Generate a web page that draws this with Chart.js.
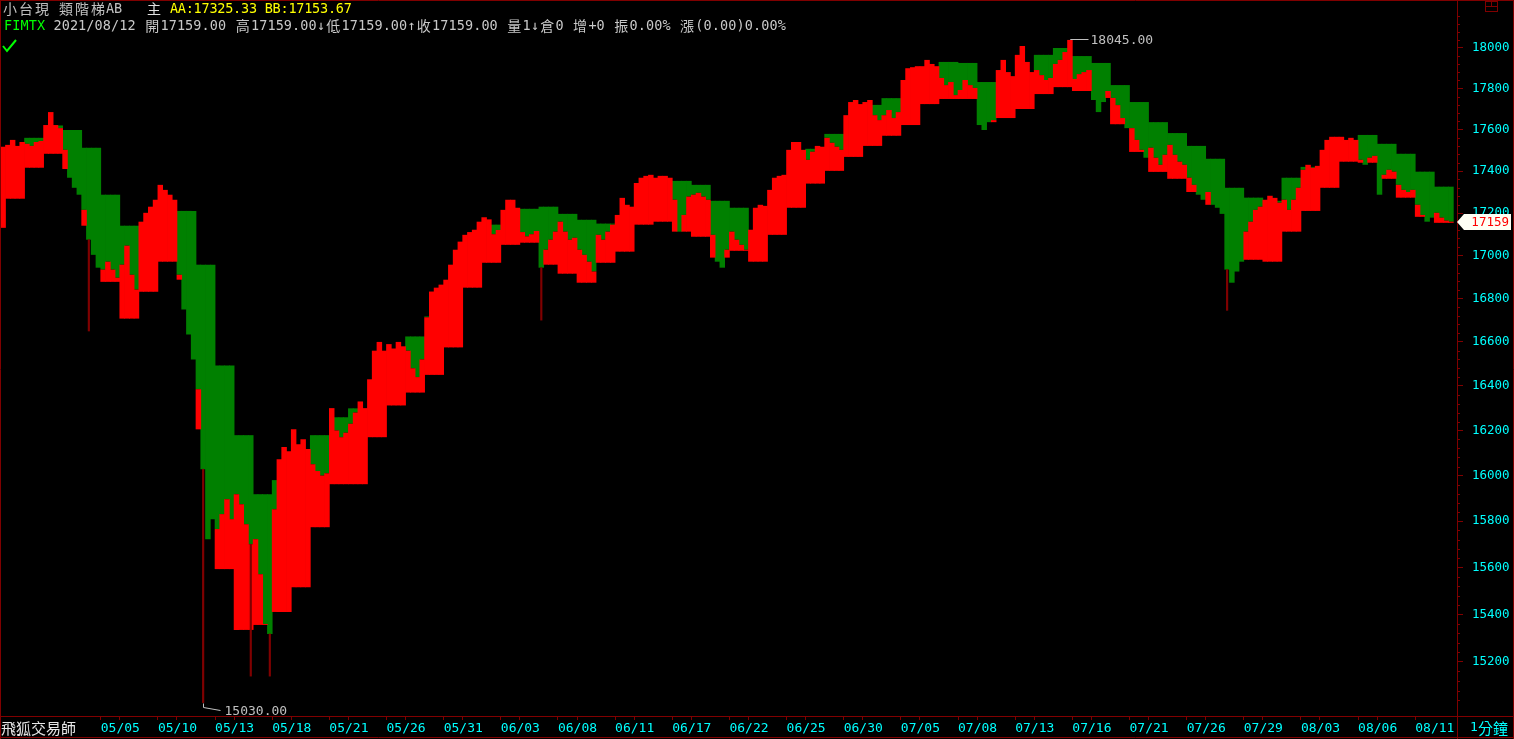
<!DOCTYPE html>
<html>
<head>
<meta charset="utf-8">
<script src="https://cdn.jsdelivr.net/npm/chart.js@4.4.1/dist/chart.umd.min.js"></script>
<style>
  html, body { margin: 0; padding: 0; background: #000; overflow: hidden; }
  canvas { display: block; }
</style>
</head>
<body>
<canvas id="ladder-chart-canvas" width="1514" height="739"></canvas>
<script>
// 4 closes per trading day, first value is the tail of 04/27
const closes = [
  17517,
  17526, 17550, 17521, 17540,  17531, 17521, 17540, 17545,  17622, 17685, 17622, 17607,  // 04/28 - 04/30
  17502, 17368, 17320, 17287,  17215, 17074, 17003, 16943,  16934, 16971, 16934, 16896,  // 05/03 - 05/05
  16957, 17046, 16910, 16841,  17159, 17201, 17230, 17263,  17334, 17310, 17287, 17263,  // 05/06 - 05/10
  16910, 16749, 16634, 16520,  16385, 16028, 15722, 15809,  15766, 15831, 15896, 15809,  // 05/11 - 05/13
  15918, 15874, 15787, 15700,  15722, 15571, 15359, 15317,  15852, 16072, 16126, 16108,  // 05/14 - 05/18
  16205, 16139, 16161, 16117,  16050, 16020, 16000, 16010,  16300, 16200, 16170, 16190,  // 05/19 - 05/21
  16230, 16280, 16330, 16300,  16430, 16560, 16600, 16560,  16590, 16570, 16600, 16580,  // 05/24 - 05/26
  16560, 16480, 16440, 16520,  16713, 16832, 16850, 16864,  16887, 16957, 17027, 17065,  // 05/27 - 05/31
  17097, 17110, 17121, 17159,  17180, 17170, 17100, 17120,  17215, 17263, 17263, 17225,  // 06/01 - 06/03
  17110, 17090, 17100, 17115,  16943, 17027, 17074, 17112,  17159, 17112, 17074, 17083,  // 06/04 - 06/08
  17027, 17003, 16971, 16925,  17097, 17074, 17112, 17145,  17191, 17272, 17239, 17230,  // 06/09 - 06/11
  17343, 17368, 17377, 17382,  17368, 17377, 17377, 17368,  17263, 17112, 17191, 17278,  // 06/15 - 06/17
  17287, 17296, 17278, 17263,  17097, 16971, 16943, 17027,  17112, 17074, 17050, 17027,  // 06/18 - 06/22
  17121, 17225, 17239, 17234,  17310, 17368, 17377, 17382,  17502, 17540, 17540, 17502,  // 06/23 - 06/25
  17454, 17493, 17521, 17517,  17560, 17536, 17517, 17502,  17670, 17734, 17744, 17724,  // 06/28 - 06/30
  17734, 17744, 17670, 17646,  17670, 17695, 17656, 17685,  17842, 17900, 17905, 17910,  // 07/01 - 07/05
  17910, 17941, 17921, 17910,  17852, 17817, 17832, 17768,  17793, 17842, 17817, 17803,  // 07/06 - 07/08
  17622, 17598, 17636, 17646,  17891, 17941, 17881, 17861,  17966, 18010, 17931, 17881,  // 07/09 - 07/13
  17891, 17866, 17842, 17852,  17921, 17941, 17980, 18040,  17847, 17871, 17881, 17891,  // 07/14 - 07/16
  17744, 17685, 17734, 17788,  17754, 17719, 17656, 17607,  17607, 17550, 17502, 17464,  // 07/19 - 07/21
  17512, 17464, 17430, 17478,  17526, 17478, 17445, 17430,  17368, 17334, 17287, 17263,  // 07/22 - 07/26
  17300, 17239, 17225, 17196,  16934, 16873, 16925, 16971,  17112, 17159, 17215, 17230,  // 07/27 - 07/29
  17263, 17282, 17272, 17249,  17263, 17215, 17263, 17320,  17406, 17430, 17416, 17425,  // 07/30 - 08/03
  17502, 17550, 17565, 17565,  17565, 17550, 17560, 17550,  17454, 17430, 17464, 17473,  // 08/04 - 08/06
  17287, 17382, 17406, 17397,  17334, 17310, 17300, 17310,  17239, 17191, 17159, 17178,  // 08/09 - 08/11
  17201, 17178, 17164, 17159   // 08/12
];

// one step per trading day (first entry = 04/27 tail), null where the step is not shown
const ladderAA = [
  null, null, 17560, 17620, 17598, 17512, 17287, 17140, null, 17250, 17210,
  16957, 16493, 16179, 15918, 15980, null, 16179, 16259, 16299, null,
  null, 16625, 16717, null, null, 17145, 17215, 17220, 17230, 17196,
  17168, 17150, null, null, null, 17353, 17334, 17258, 17225, null,
  null, null, 17507, 17579, null, 17720, 17753, null, null, 17931,
  17926, 17832, null, null, 17966, 18000, 17960, 17926, 17817, 17734,
  17636, 17583, 17521, 17459, 17320, 17273, 17258, 17368, 17420, null,
  null, 17574, 17531, 17483, 17397, 17325.33
];
const ladderBB = [
  17130, 17268, 17416, 17483, 17410, 17140, 16877, 16707, 16831, 16971, 16887,
  16205, 15593, 15334, 15355, 15410, 15515, 15774, 15962, 15962, 16170,
  16312, 16370, 16450, 16575, 16850, 16966, 17050, 17060, 16957, 16915,
  16873, 16966, 17018, 17145, 17159, 17112, 17088, 16990, 17022, 16971,
  17097, 17225, 17340, 17401, 17468, 17521, 17570, 17622, 17724, 17749,
  17749, 17636, 17656, 17700, 17773, 17807, 17788, 17754, 17626, 17492,
  17396, 17363, 17300, 17239, 17027, 16980, 16971, 17112, 17210, 17320,
  17445, 17440, 17363, 17273, 17182, 17153.67
];

// date labels, one every third trading day starting 05/05
const tickLabels = ['05/05', '05/10', '05/13', '05/18', '05/21', '05/26', '05/31', '06/03',
  '06/08', '06/11', '06/17', '06/22', '06/25', '06/30', '07/05', '07/08', '07/13', '07/16',
  '07/21', '07/26', '07/29', '08/03', '08/06', '08/11'];
const priceTicks = [15200, 15400, 15600, 15800, 16000, 16200, 16400, 16600, 16800,
  17000, 17200, 17400, 17600, 17800, 18000];

// long lower shadows [point index, low]
const lowWicks = [[18, 16650], [42, 15030], [52, 15140], [56, 15140], [113, 16700], [257, 16745]];
const highMark = [224, 18045];
const lowMark = [42, 15030];

const DARKRED = '#800000';
const CYAN = '#00ffff';
const MONO = '"DejaVu Sans Mono", "Liberation Mono", monospace';
const CJK = '"Noto Sans CJK TC", "Noto Sans CJK SC", sans-serif';

const dayOf = i => (i === 0 ? 0 : 1 + Math.floor((i - 1) / 4));

const redBars = [];
const greenBars = [];
closes.forEach((c, i) => {
  const aa = ladderAA[dayOf(i)];
  const bb = ladderBB[dayOf(i)];
  if (bb !== null && c > bb) redBars.push({ x: i, y: [bb, c] });
  if (aa !== null && c < aa) greenBars.push({ x: i, y: [c, aa] });
});
const wickBars = lowWicks.map(([i, lo]) => ({ x: i, y: [lo, closes[i]] }));

// draw a string on a fixed character grid, CJK glyphs take two cells
function cellText(ctx, str, x, y, color, cell) {
  ctx.fillStyle = color;
  ctx.textAlign = 'center';
  ctx.textBaseline = 'middle';
  for (const ch of str) {
    const wide = ch.charCodeAt(0) > 0x2e80;
    ctx.font = wide ? '14px ' + CJK : '13.5px ' + MONO;
    const w = (wide ? 2 : 1) * cell;
    if (ch !== ' ') ctx.fillText(ch, x + w / 2, y);
    x += w;
  }
  return x;
}

const screenPlugin = {
  id: 'screen',
  beforeDraw(chart) {
    const ctx = chart.ctx;
    ctx.save();
    ctx.fillStyle = '#000';
    ctx.fillRect(0, 0, chart.width, chart.height);
    ctx.restore();
  },
  afterDraw(chart) {
    const ctx = chart.ctx;
    const xs = chart.scales.x;
    const ys = chart.scales.y;
    const area = chart.chartArea;
    ctx.save();

    // frame
    ctx.strokeStyle = DARKRED;
    ctx.lineWidth = 1;
    ctx.beginPath();
    ctx.moveTo(0.5, 0); ctx.lineTo(0.5, 739);
    ctx.moveTo(1513.5, 0); ctx.lineTo(1513.5, 739);
    ctx.moveTo(0, 0.5); ctx.lineTo(1514, 0.5);
    ctx.moveTo(0, area.bottom + 0.5); ctx.lineTo(1514, area.bottom + 0.5);
    ctx.moveTo(0, 737.5); ctx.lineTo(1514, 737.5);
    ctx.moveTo(area.right + 0.5, 0); ctx.lineTo(area.right + 0.5, 739);
    ctx.stroke();

    // small window icon top right
    ctx.strokeRect(1485.5, 1.5, 12, 10);
    ctx.beginPath();
    ctx.moveTo(1485.5, 6.5); ctx.lineTo(1497.5, 6.5);
    ctx.moveTo(1491.5, 1.5); ctx.lineTo(1491.5, 6.5);
    ctx.stroke();

    // minor ticks on the price axis
    ctx.beginPath();
    for (let v = 15000; v <= 18200; v += 40) {
      if (v % 200 === 0) continue;
      const py = Math.round(ys.getPixelForValue(v)) + 0.5;
      if (py < area.top || py > area.bottom) continue;
      ctx.moveTo(area.right + 1, py); ctx.lineTo(area.right + 3, py);
    }
    ctx.stroke();

    // header
    cellText(ctx, '小台現 類階梯AB', 2, 9, '#c0c0c0', 8);
    cellText(ctx, '主', 146, 9, '#e0e0e0', 8);
    cellText(ctx, 'AA:17325.33 BB:17153.67', 170, 9, '#ffff00', 7.9);
    let hx = cellText(ctx, 'FIMTX', 4, 26, '#00ff00', 8.23);
    cellText(ctx, ' 2021/08/12 開17159.00 高17159.00↓低17159.00↑收17159.00 量1↓倉0 增+0 振0.00% 漲(0.00)0.00%',
      hx, 26, '#c8c8c8', 8.23);

    // check mark
    ctx.strokeStyle = '#00ff00';
    ctx.lineWidth = 2;
    ctx.beginPath();
    ctx.moveTo(3, 46); ctx.lineTo(7, 51); ctx.lineTo(16, 40);
    ctx.stroke();

    // high / low annotations
    ctx.strokeStyle = '#c0c0c0';
    ctx.lineWidth = 1;
    ctx.font = '13px ' + MONO;
    ctx.fillStyle = '#c0c0c0';
    ctx.textAlign = 'left';
    ctx.textBaseline = 'middle';
    const hxp = Math.round(xs.getPixelForValue(highMark[0])) + 0.5;
    const hyp = Math.round(ys.getPixelForValue(highMark[1])) + 0.5;
    ctx.beginPath();
    ctx.moveTo(hxp, ys.getPixelForValue(closes[highMark[0]])); ctx.lineTo(hxp, hyp);
    ctx.lineTo(hxp + 18, hyp);
    ctx.stroke();
    ctx.fillText(highMark[1].toFixed(2), hxp + 20, hyp + 1);

    const lxp = Math.round(xs.getPixelForValue(lowMark[0])) + 0.5;
    const lyp = Math.round(ys.getPixelForValue(lowMark[1])) + 0.5;
    ctx.beginPath();
    ctx.moveTo(lxp, lyp); ctx.lineTo(lxp, lyp + 4); ctx.lineTo(lxp + 17, lyp + 7);
    ctx.stroke();
    ctx.fillText(lowMark[1].toFixed(2), lxp + 21, lyp + 8);

    // last price tag
    const last = closes[closes.length - 1];
    const ty = Math.round(ys.getPixelForValue(last));
    const tx = area.right;
    ctx.fillStyle = '#fffff4';
    ctx.beginPath();
    ctx.moveTo(tx, ty); ctx.lineTo(tx + 7, ty - 8); ctx.lineTo(1511, ty - 8);
    ctx.lineTo(1511, ty + 8); ctx.lineTo(tx + 7, ty + 8);
    ctx.closePath();
    ctx.fill();
    ctx.fillStyle = '#ff0000';
    ctx.font = '12.5px ' + MONO;
    ctx.textAlign = 'right';
    ctx.fillText(String(last), 1509, ty + 1);

    // bottom row captions
    ctx.fillStyle = '#e8e8e8';
    ctx.textAlign = 'left';
    ctx.font = '15px ' + CJK;
    ctx.fillText('飛狐交易師', 1, 728);
    ctx.fillStyle = CYAN;
    ctx.font = '13px ' + MONO;
    ctx.fillText('1', 1470, 728);
    ctx.font = '15px ' + CJK;
    ctx.fillText('分鐘', 1478, 728);

    ctx.restore();
  }
};

const barCommon = {
  grouped: false,
  borderWidth: 0,
  barPercentage: 1.15,
  categoryPercentage: 1
};

new Chart(document.getElementById('ladder-chart-canvas'), {
  type: 'bar',
  data: {
    datasets: [
      Object.assign({ label: 'low', data: wickBars, backgroundColor: DARKRED, barThickness: 1.5 }, { grouped: false, borderWidth: 0 }),
      Object.assign({ label: 'BB', data: redBars, backgroundColor: '#ff0000' }, barCommon),
      Object.assign({ label: 'AA', data: greenBars, backgroundColor: '#008000' }, barCommon)
    ]
  },
  options: {
    responsive: false,
    animation: false,
    events: [],
    layout: { padding: { top: 3, left: 0, right: 0, bottom: 0 } },
    plugins: { legend: { display: false }, tooltip: { enabled: false } },
    scales: {
      x: {
        type: 'linear',
        offset: false,
        min: -0.655,
        max: 305.27,
        afterFit: s => { s.height = 23; s.paddingLeft = 0; s.paddingRight = 0; },
        afterBuildTicks: s => {
          const t = [];
          tickLabels.forEach((lab, m) => {
            const k = 5 + 3 * m;
            t.push({ value: 4 * k + 0.5, txt: lab });
            if (m < tickLabels.length - 1) t.push({ value: 4 * (k + 1) + 0.5, txt: '' });
          });
          s.ticks = t;
        },
        grid: { offset: false, drawOnChartArea: false, tickLength: 4, tickColor: DARKRED },
        border: { color: DARKRED },
        ticks: {
          autoSkip: false,
          maxRotation: 0,
          align: 'start',
          padding: 1,
          color: CYAN,
          font: { family: MONO, size: 13 },
          callback: (v, i, ticks) => ticks[i].txt
        }
      },
      y: {
        type: 'logarithmic',
        position: 'right',
        min: 14974.6,
        max: 18224.5,
        afterFit: s => { s.width = 57; s.paddingTop = 0; s.paddingBottom = 0; },
        afterBuildTicks: s => { s.ticks = priceTicks.map(v => ({ value: v })); },
        grid: { drawOnChartArea: false, tickLength: 6, tickColor: DARKRED },
        border: { color: DARKRED },
        ticks: {
          padding: 9,
          color: CYAN,
          font: { family: MONO, size: 12.5 },
          callback: v => String(v)
        }
      }
    }
  },
  plugins: [screenPlugin]
});
</script>
</body>
</html>
